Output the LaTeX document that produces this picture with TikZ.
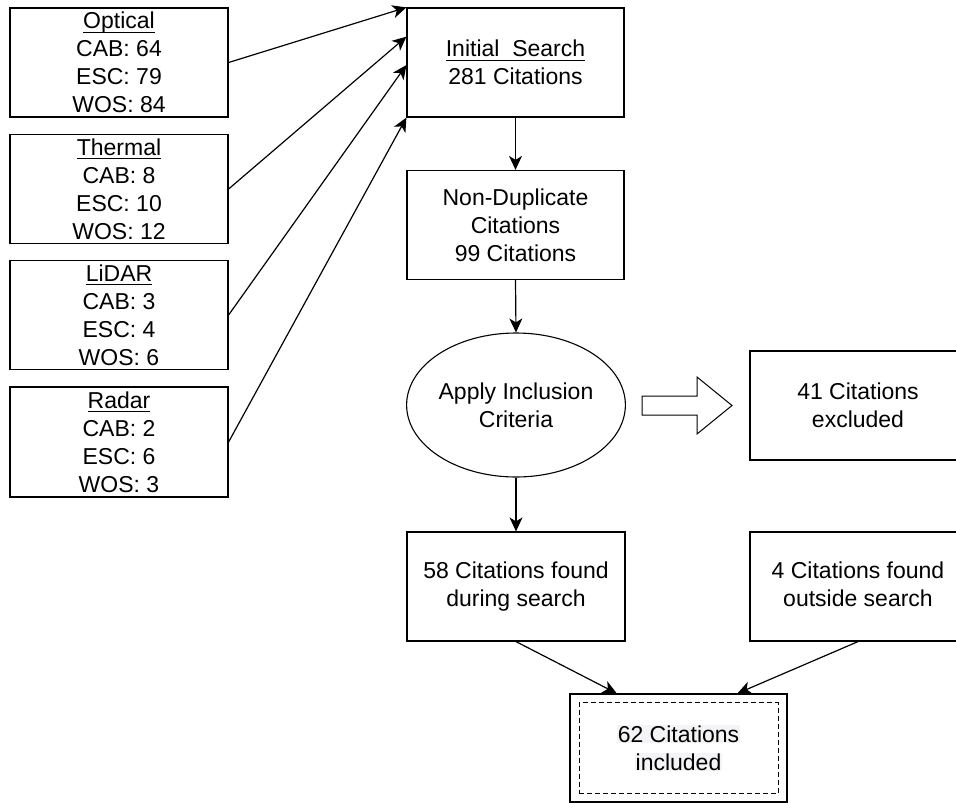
\documentclass[tikz,border=0pt]{standalone}
\usepackage{fontspec}
\setmainfont{Liberation Sans}
\usetikzlibrary{arrows.meta,calc,shapes.geometric}

% underlined heading: a rule a little below the baseline, as wide as the word
\newcommand\hdline[1]{\setbox0\hbox{#1}\rlap{\rule[-4pt]{\wd0}{1.1pt}}#1}
\definecolor{hlgray}{RGB}{244,244,247}
\setlength\fboxsep{0.5pt}

\begin{document}
\begin{tikzpicture}[x=1pt,y=-1pt,
  txt/.style={font=\fontsize{23}{28}\selectfont, align=center},
  box/.style={txt, draw, line width=1.2pt, inner sep=0pt,
              minimum width=217pt, minimum height=109pt},
  oval/.style={txt, draw, ellipse, line width=1.1pt, inner sep=0pt,
               minimum width=218pt, minimum height=144pt},
  link/.style={line width=1.2pt, -{Stealth[length=14pt,width=13pt,inset=4pt]}},
]
\useasboundingbox (0,0) rectangle (956,803);
\clip (0,0) rectangle (956,803);

% sensor boxes
\node[box, minimum width=218pt] (opt) at (119,62.5)
  {\hdline{Optical}\\CAB: 64\\ESC: 79\\WOS: 84};
\node[box, minimum width=218pt] (th) at (119,189)
  {\hdline{Thermal}\\CAB: 8\\ESC: 10\\WOS: 12};
\node[box, minimum width=218pt] (li) at (119,315)
  {\hdline{LiDAR}\\CAB: 3\\ESC: 4\\WOS: 6};
\node[box, minimum width=218pt, minimum height=110pt] (ra) at (119,442)
  {\hdline{Radar}\\CAB: 2\\ESC: 6\\WOS: 3};

% main flow
\node[box] (init) at (515.5,62.5) {\hdline{Initial\ \ Search}\\281 Citations};
\node[box] (nd) at (515.5,225) {Non-Duplicate\\Citations\\99 Citations};
\node[oval] (ell) at (516,405) {Apply Inclusion\\Criteria};
\node[box, minimum width=216pt] (exc) at (858,405.5) {41 Citations\\excluded};
\node[box, minimum width=218pt] (f58) at (516,586.5) {58 Citations found\\during search};
\node[box, minimum width=216pt] (f4) at (858,586.5)
  {4 Citations found\\outside search\vphantom{g}};

% final box with dashed inner frame
\node[box, minimum height=108pt] (inc) at (678.5,748) {};
\node[draw, dash pattern=on 5pt off 3pt, line width=1pt,
      minimum width=199pt, minimum height=91pt,
      inner sep=0pt] (incin) at (inc.center) {};
\node[txt] (inctext) at (inc.center)
  {\colorbox{hlgray}{62 Citations}\\\colorbox{hlgray}{included}};

% connectors from the sensor boxes
\draw[link] (opt.east) -- (init.north west);
\draw[link] (th.east) -- ($(init.north west)!0.266!(init.south west)$);
\draw[link] (li.east) -- ($(init.north west)!0.523!(init.south west)$);
\draw[link] (ra.east) -- (init.south west);

% vertical flow
\draw[link] (init.south) -- (nd.north);
\draw[link] (nd.south) -- (ell.north);
\draw[link] (ell.south) -- (f58.north);
\draw[link] (f58.south) -- ($(inc.north west)!0.217!(inc.north east)$);
\draw[link] (f4.south) -- ($(inc.north west)!0.77!(inc.north east)$);

% hollow block arrow towards the excluded citations
\draw[line width=1pt, line join=miter]
  (642,396) -- (697,396) -- (697,377) -- (732,405.5) -- (697,434)
  -- (697,415) -- (642,415) -- cycle;
\end{tikzpicture}
\end{document}
